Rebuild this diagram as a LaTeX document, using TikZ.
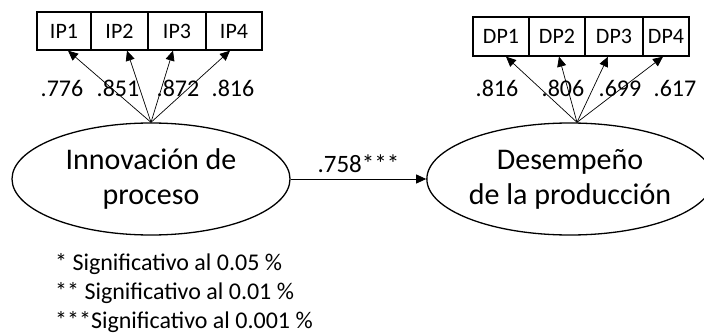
\documentclass[tikz,border=0pt]{standalone}
\usepackage{fontspec}
\setmainfont{Carlito}
\usetikzlibrary{positioning}
\usetikzlibrary{arrows.meta}
\usetikzlibrary{shapes.geometric}

\tikzset{
  item/.style={draw, line width=1.3pt, inner sep=0pt, minimum height=38pt,
    font=\fontsize{22}{26}\selectfont},
  latent/.style={draw, ellipse, line width=1.3pt, inner sep=0pt, align=center,
    font=\fontsize{30}{35}\selectfont},
  load/.style={inner sep=0pt, font=\fontsize{24}{28}\selectfont},
  arr/.style={-{Triangle[length=10pt, width=9pt]}, line width=0.7pt}
}

\begin{document}
\begin{tikzpicture}[x=1pt, y=-1pt]
\useasboundingbox (0,0) rectangle (704,334);

% latent variables
\node[latent, minimum width=278pt, minimum height=112pt] (inno) at (151,179)
  {Innovación de\\proceso};
\node[latent, minimum width=264pt, minimum height=112pt] (desemp) at (570,179)
  {Desempeño\\de la producción};

% indicators
\node[item, minimum width=54pt] (ip1) at (64,31) {IP1};
\node[item, minimum width=57pt] (ip2) at (119.5,31) {IP2};
\node[item, minimum width=58pt] (ip3) at (177,31) {IP3};
\node[item, minimum width=56pt] (ip4) at (234,31) {IP4};

\node[item, minimum width=56pt, minimum height=39pt] (dp1) at (501,36.5) {DP1};
\node[item, minimum width=56pt, minimum height=39pt] (dp2) at (557,36.5) {DP2};
\node[item, minimum width=58pt, minimum height=39pt] (dp3) at (614,36.5) {DP3};
\node[item, minimum width=46pt, minimum height=39pt] (dp4) at (666,36.5) {DP4};

\coordinate (dtop) at ([xshift=7pt]desemp.north);

\draw[arr] (inno.north) -- ([xshift=4pt]ip1.south);
\draw[arr] (inno.north) -- ([xshift=7.5pt]ip2.south);
\draw[arr] (inno.north) -- ([xshift=-4pt]ip3.south);
\draw[arr] (inno.north) -- ([xshift=-4pt]ip4.south);

\draw[arr] (dtop) -- ([xshift=5pt]dp1.south);
\draw[arr] (dtop) -- ([xshift=2pt]dp2.south);
\draw[arr] (dtop) -- ([xshift=-6pt]dp3.south);
\draw[arr] (dtop) -- ([xshift=-3pt]dp4.south);

% loadings
\node[load] (l1) at (62,88) {.776};
\node[load] (l2) at (118,88) {.851};
\node[load] (l3) at (178,88) {.872};
\node[load] (l4) at (233,88) {.816};
\node[load] (m1) at (497,88) {.816};
\node[load] (m2) at (563,88) {.806};
\node[load] (m3) at (620,88) {.699};
\node[load] (m4) at (675,88) {.617};

% structural path
\draw[arr, line width=0.8pt] (inno.east) -- (desemp.west)
  node[load, midway, above=6pt, font=\fontsize{25}{29}\selectfont] (beta) {.758***};

\node[inner sep=0pt, anchor=west, align=left, font=\fontsize{24}{29}\selectfont]
  (leg) at (55,293)
  {* Significativo al 0.05 \%\\** Significativo al 0.01 \%\\***Significativo al 0.001 \%};
\end{tikzpicture}
\end{document}
